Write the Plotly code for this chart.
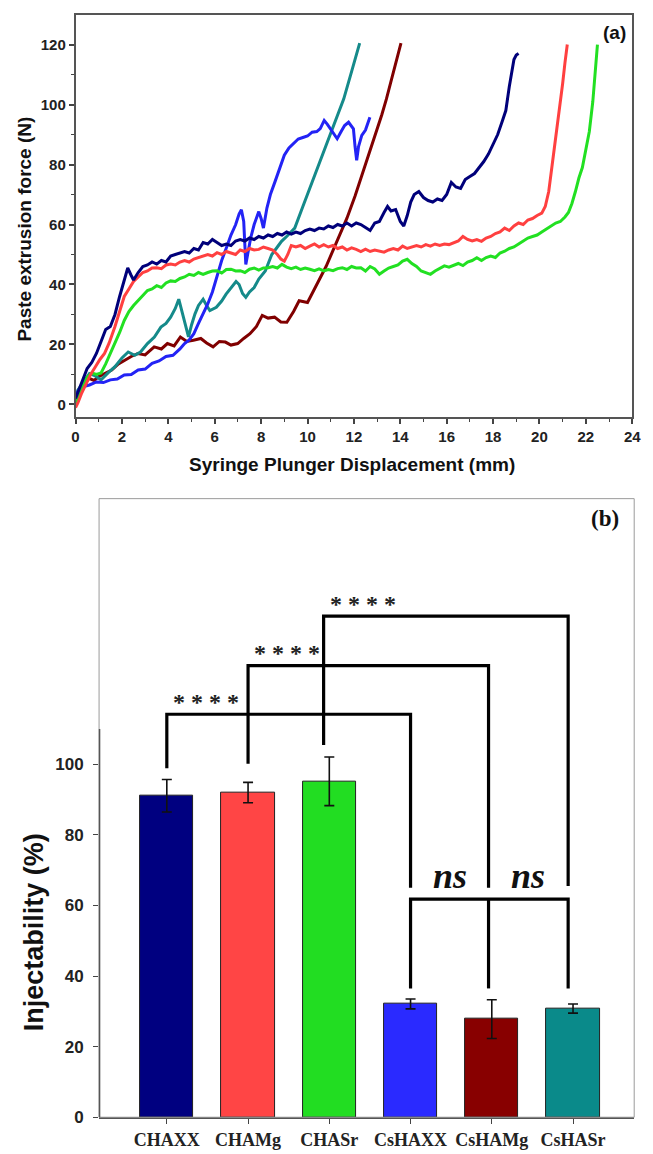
import plotly.graph_objects as go

W, H = 653, 1154

# ---------------- Panel (a): extrusion force curves ----------------
navy_x = [0.0, 0.1, 0.3, 0.5, 0.7, 0.9, 1.1, 1.3, 1.5, 1.7,
          1.9, 2.1, 2.25, 2.4, 2.5, 2.7, 2.9, 3.1, 3.3, 3.5,
          3.7, 3.9, 4.1, 4.3, 4.5, 4.7, 4.9, 5.1, 5.3, 5.5,
          5.7, 5.9, 6.1, 6.3, 6.5, 6.7, 6.9, 7.1, 7.3, 7.5,
          7.7, 7.9, 8.1, 8.3, 8.5, 8.7, 8.9, 9.1, 9.3, 9.5,
          9.7, 9.9, 10.1, 10.3, 10.5, 10.7, 10.9, 11.1, 11.3, 11.5,
          11.7, 11.9, 12.1, 12.3, 12.5, 12.7, 12.9, 13.1, 13.3, 13.45,
          13.6, 13.8, 14.0, 14.15, 14.3, 14.45, 14.6, 14.8, 15.0, 15.2,
          15.4, 15.6, 15.8, 16.0, 16.2, 16.4, 16.6, 16.8, 17.0, 17.2,
          17.4, 17.6, 17.8, 18.0, 18.2, 18.4, 18.55, 18.7, 18.8, 18.9,
          19.0, 19.1]
navy_y = [2, 4, 8, 12, 14, 17, 21, 25, 26, 30,
          36, 41, 45.5, 43, 41.5, 44, 46, 46.5, 47.5, 46.8,
          48, 47.5, 49.5, 50, 50.5, 51, 50.5, 52, 51.5, 54,
          53.5, 55, 54, 53, 53.5, 53, 54.5, 55, 54.5, 55.5,
          55, 56, 55.5, 56.5, 56, 57, 56.5, 57.5, 56.8, 57.5,
          57, 58, 58.5, 58, 58.8, 58.5, 59.5, 59, 60, 59.5,
          60.5, 59.5, 60.5, 60, 59, 58, 60.5, 61, 64, 66,
          64.5, 65, 61, 59.5, 63, 67.5, 70, 71, 69, 68,
          67.5, 68.5, 68, 70, 74, 72.5, 72, 75, 76, 77,
          79, 81, 83.5, 86.5, 90, 94.5, 98, 106, 111, 115,
          116.5, 117]

red_x = [0.0, 0.1, 0.25, 0.45, 0.65, 0.85, 1.05, 1.25, 1.45, 1.7,
         1.9, 2.1, 2.3, 2.5, 2.7, 2.9, 3.1, 3.3, 3.5, 3.7,
         3.9, 4.1, 4.3, 4.5, 4.7, 4.9, 5.1, 5.3, 5.5, 5.7,
         5.9, 6.1, 6.3, 6.5, 6.7, 6.9, 7.1, 7.3, 7.5, 7.7,
         7.9, 8.1, 8.3, 8.5, 8.7, 8.85, 9.0, 9.15, 9.3, 9.5,
         9.7, 9.9, 10.1, 10.3, 10.5, 10.7, 10.9, 11.1, 11.3, 11.5,
         11.7, 11.9, 12.1, 12.3, 12.5, 12.7, 12.9, 13.1, 13.3, 13.5,
         13.7, 13.9, 14.1, 14.3, 14.5, 14.7, 14.9, 15.1, 15.3, 15.5,
         15.7, 15.9, 16.1, 16.3, 16.5, 16.7, 16.9, 17.1, 17.3, 17.5,
         17.7, 17.9, 18.1, 18.3, 18.5, 18.7, 18.9, 19.1, 19.3, 19.5,
         19.7, 19.9, 20.1, 20.25, 20.4, 20.55, 20.7, 20.85, 21.0, 21.1,
         21.2]
red_y = [-1, 0.5, 3.5, 7, 10, 12.5, 15, 17, 20.5, 26,
         31, 36, 38.5, 41, 42.5, 44, 44.5, 45.5, 45.6, 45.3,
         46.5, 46.8, 46.5, 47.5, 48, 47.5, 48.5, 49, 49.5, 50,
         49.5, 50.6, 50, 51, 50.5, 50, 51.5, 51, 52, 51.5,
         51.7, 52.5, 52, 51.5, 50, 48.5, 47.8, 50, 53, 52.5,
         53, 52, 52.8, 53.5, 52.5, 53.3, 52.5, 53, 52, 52.5,
         51.5, 52.2, 51.7, 51, 51.8, 51, 51.5, 51.1, 50.8, 51.5,
         52, 51.5, 52.8, 52, 52.5, 53, 52.5, 53.3, 52.8, 53.5,
         53, 53.5, 53.3, 54, 54.5, 56, 55, 54.5, 55, 54.4,
         55.5, 56, 57, 57.5, 58.8, 58, 59.5, 60.5, 60, 61.5,
         62, 63, 63.8, 66, 71, 80, 88.5, 97, 107, 114,
         120]

green_x = [0.0, 0.1, 0.3, 0.5, 0.7, 0.9, 1.1, 1.3, 1.5, 1.7,
           1.9, 2.1, 2.3, 2.5, 2.7, 2.9, 3.1, 3.3, 3.5, 3.7,
           3.9, 4.1, 4.3, 4.5, 4.7, 4.9, 5.1, 5.3, 5.5, 5.7,
           5.9, 6.1, 6.3, 6.5, 6.7, 6.9, 7.1, 7.3, 7.5, 7.7,
           7.9, 8.1, 8.3, 8.5, 8.7, 8.9, 9.1, 9.3, 9.5, 9.7,
           9.9, 10.1, 10.3, 10.5, 10.7, 10.9, 11.1, 11.3, 11.5, 11.7,
           11.9, 12.1, 12.3, 12.5, 12.7, 12.9, 13.1, 13.3, 13.5, 13.7,
           13.9, 14.1, 14.3, 14.5, 14.7, 14.9, 15.1, 15.3, 15.5, 15.7,
           15.9, 16.1, 16.3, 16.5, 16.7, 16.9, 17.1, 17.3, 17.5, 17.7,
           17.9, 18.1, 18.3, 18.5, 18.7, 18.9, 19.1, 19.3, 19.5, 19.7,
           19.9, 20.1, 20.3, 20.5, 20.7, 20.9, 21.1, 21.25, 21.4, 21.55,
           21.7, 21.85, 22.0, 22.15, 22.3, 22.4, 22.5]
green_y = [0.5, 2.5, 6, 9, 10.5, 10, 10.5, 13.5, 17, 20,
           24, 28, 31, 33, 34.6, 36.5, 38, 38.5, 39.6, 39,
           40.5, 41.2, 41, 42, 42.5, 43.4, 43, 44, 43.4, 44,
           44.5, 44.6, 43.8, 45, 45.1, 44.5, 44.6, 44, 45.1, 45.5,
           44.8, 45.5, 45.6, 46, 45.5, 46.7, 45.8, 45.3, 45.8, 45,
           45.5, 45.1, 44.6, 45.2, 44.5, 45, 44.6, 45.3, 45.6, 45,
           46, 45.5, 45.6, 44.5, 46, 45.2, 43.4, 44.5, 45.5, 46,
           46.5, 47.8, 48.4, 47, 46, 44.5, 44, 43.4, 44.5, 45.5,
           46.2, 45.8, 46.5, 47, 46.3, 47.5, 48, 48.9, 48, 49,
           49.5, 49, 50.5, 51.1, 52, 52.5, 53.5, 54.5, 55.5, 56,
           56.5, 57.5, 58.5, 59.4, 60.5, 61, 62.5, 64, 67, 71,
           75.5, 79, 84.5, 91, 101, 110, 120]

blue_x = [0.0, 0.15, 0.35, 0.6, 0.9, 1.2, 1.5, 1.8, 2.1, 2.4,
          2.7, 3.0, 3.3, 3.6, 3.9, 4.2, 4.5, 4.7, 4.9, 5.1,
          5.3, 5.5, 5.7, 5.9, 6.1, 6.3, 6.5, 6.7, 6.9, 7.05,
          7.15, 7.25, 7.34, 7.45, 7.55, 7.7, 7.9, 8.0, 8.1, 8.25,
          8.4, 8.6, 8.8, 9.0, 9.2, 9.4, 9.6, 9.8, 10.0, 10.2,
          10.4, 10.55, 10.72, 10.85, 11.0, 11.15, 11.28, 11.45, 11.6, 11.77,
          11.9, 11.98, 12.05, 12.12, 12.2, 12.34, 12.5, 12.6, 12.69]
blue_y = [3, 5, 6, 6.5, 7.5, 7.3, 8.2, 8.5, 9.8, 10,
          11.5, 11.8, 13.7, 14.5, 16, 16.4, 18.5, 20.3, 21.5, 23.6,
          27, 30.2, 33.5, 37.5, 43, 48, 52.2, 56.5, 59.9, 63.5,
          64.9, 61, 46.7, 52, 55.5, 60, 64.3, 62, 58.8, 65.5,
          70, 74.3, 79, 83.1, 85.5, 87, 88.5, 89, 89.5, 90.8,
          91, 92, 94.7, 93.5, 91.9, 90, 88.6, 91, 93, 94.1,
          92.5, 91.9, 86, 81.4, 86, 89.7, 91.5, 93.5, 95.8]

maroon_x = [0.0, 0.1, 0.3, 0.58, 0.8, 1.0, 1.3, 1.56, 1.85, 2.13,
            2.4, 2.69, 3.0, 3.39, 3.7, 3.96, 4.25, 4.52, 4.8, 5.08,
            5.4, 5.65, 5.93, 6.2, 6.46, 6.7, 6.99, 7.25, 7.52, 7.8,
            8.05, 8.3, 8.58, 8.85, 9.11, 9.4, 9.64, 10.0, 10.25, 10.5,
            10.8, 11.14, 11.4, 11.7, 12.05, 12.4, 12.7, 12.97, 13.2, 13.4,
            13.7, 14.03]
maroon_y = [2, 3.7, 6, 8.7, 8, 9.3, 10.5, 11.5, 13.5, 14.8,
            16, 17, 16.5, 19.2, 18.5, 20.3, 19.5, 22.5, 21, 21.4,
            22, 20.5, 19.2, 21, 20.8, 19.8, 20.3, 22, 23.6, 26,
            29.7, 28.8, 29.1, 27.5, 27.4, 31, 34.6, 34, 38, 41.5,
            46, 52.2, 56.5, 62.1, 69.5, 77.6, 84.5, 90.8, 96.5, 101.8,
            111, 120.5]

teal_x = [0.0, 0.1, 0.3, 0.6, 0.85, 1.1, 1.4, 1.7, 2.0, 2.27,
          2.55, 2.8, 3.1, 3.4, 3.68, 3.9, 4.1, 4.3, 4.45, 4.6,
          4.73, 4.87, 5.0, 5.15, 5.3, 5.5, 5.65, 5.79, 6.07, 6.3,
          6.49, 6.7, 6.92, 7.05, 7.2, 7.34, 7.5, 7.7, 7.9, 8.18,
          8.46, 8.7, 8.88, 9.1, 9.45, 9.8, 10.15, 10.5, 10.86, 11.2,
          11.56, 11.9, 12.25]
teal_y = [2, 4.8, 7, 10.3, 9.5, 8.2, 10.5, 12.6, 15.5, 17.5,
          16.4, 17.5, 20.3, 22.5, 25.8, 27, 29.1, 32, 35.1, 30.5,
          25.8, 22.5, 26.5, 30.2, 33, 35.1, 33, 31.3, 32.4, 34.5,
          36.8, 39, 41, 40, 37, 35.7, 37.5, 39, 41.8, 44.5,
          50, 52.5, 54.4, 56, 58.8, 66, 73.2, 80.5, 87.5, 94.5,
          101.8, 111, 120.5]

curves = [
    ("CsHAMg", maroon_x, maroon_y, "#800000"),
    ("CsHASr", teal_x, teal_y, "#158a8a"),
    ("CsHAXX", blue_x, blue_y, "#2323f5"),
    ("CHASr", green_x, green_y, "#22e022"),
    ("CHAMg", red_x, red_y, "#ff4040"),
    ("CHAXX", navy_x, navy_y, "#00007a"),
]

# ---------------- Panel (b): injectability bars ----------------
groups = ["CHAXX", "CHAMg", "CHASr", "CsHAXX", "CsHAMg", "CsHASr"]
inject = [91.1, 92.0, 95.2, 32.1, 27.8, 30.8]
inject_err = [4.6, 2.9, 6.9, 1.4, 5.5, 1.3]
bar_colors = ["#000080", "#ff4545", "#22dd22", "#2a2aff", "#880000", "#0a8a8a"]

# significance brackets: (left group, right group, left leg bottom, right leg bottom, bar height, label)
leg_pos = [0, 1, 1.93, 3, 3.96, 4.94]
brackets = [
    (0, 3, 98.9, 65.0, 114.2, "* * * *"),
    (1, 4, 100.2, 65.0, 128.0, "* * * *"),
    (2, 5, 105.5, 65.5, 142.0, "* * * *"),
]
ns_level = 61.8
ns_bottom = 36.5
ns_groups = [3, 4, 5]

fig = go.Figure()

for name, xs, ys, col in curves:
    fig.add_trace(go.Scatter(x=xs, y=ys, mode="lines", name=name,
                             line=dict(color=col, width=3),
                             xaxis="x", yaxis="y", showlegend=False))

fig.add_trace(go.Bar(x=list(range(len(groups))), y=inject, width=0.656,
                     marker=dict(color=bar_colors, line=dict(color="#222", width=1)),
                     error_y=dict(type="data", array=inject_err, color="#111",
                                  thickness=1.6, width=5),
                     xaxis="x2", yaxis="y2", showlegend=False))

def px2x(px):
    return px / W

def py2y(py):
    return 1 - py / H

sans = "Liberation Sans, Arial, sans-serif"
serif = "Liberation Serif, Times New Roman, serif"

B_TOP, B_BOT = 503, 1127

shapes = []
annotations = []
LW = 3.2
for (a, b, la, lb, h, lab) in brackets:
    xa, xb = leg_pos[a], leg_pos[b]
    shapes.append(dict(type="path", xref="x2", yref="y2",
                       path=f"M {xa},{la} L {xa},{h} L {xb},{h} L {xb},{lb}",
                       line=dict(color="black", width=LW)))
    annotations.append(dict(x=xa + 0.48, y=h - 0.8, xref="x2", yref="y2",
                            text=lab, showarrow=False, xanchor="center", yanchor="bottom",
                            font=dict(family=serif, size=24, color="#222", weight="bold")))

xl, xm, xr = leg_pos[ns_groups[0]], leg_pos[ns_groups[1]], leg_pos[ns_groups[2]]
shapes.append(dict(type="path", xref="x2", yref="y2",
                   path=f"M {xl},{ns_bottom} L {xl},{ns_level} L {xr},{ns_level} L {xr},{ns_bottom}",
                   line=dict(color="black", width=LW)))
shapes.append(dict(type="line", xref="x2", yref="y2", x0=xm, x1=xm, y0=ns_bottom, y1=ns_level,
                   line=dict(color="black", width=LW)))
for xc in [(xl + xm) / 2, (xm + xr) / 2]:
    annotations.append(dict(x=xc, y=68.5, xref="x2", yref="y2", text="<b><i>ns</i></b>",
                            showarrow=False, xanchor="center", yanchor="middle",
                            font=dict(family=serif, size=36, color="#111")))

# panel (b) frame (light) and left axis line (dark, 0-110)
shapes.append(dict(type="rect", xref="paper", yref="paper",
                   x0=px2x(97), x1=px2x(643), y0=py2y(B_BOT), y1=py2y(B_TOP),
                   line=dict(color="#9a9a9a", width=1)))
shapes.append(dict(type="line", xref="paper", yref="y2", x0=px2x(97.5), x1=px2x(97.5),
                   y0=0, y1=110, line=dict(color="#555", width=1.5)))

def label(px, py, text, size, family, angle=0):
    return dict(x=px2x(px), y=py2y(py), xref="paper", yref="paper", text=text,
                showarrow=False, textangle=angle, xanchor="center", yanchor="middle",
                font=dict(family=family, size=size, color="#111"))

annotations += [
    label(623, 33, "<b>(a)</b>", 19, sans),
    label(613, 523, "<b>(b)</b>", 23, serif),
    label(355, 469, "<b>Syringe Plunger Displacement (mm)</b>", 19, sans),
    label(21, 231, "<b>Paste extrusion force (N)</b>", 19, sans, -90),
    label(30, 940, "<b>Injectability (%)</b>", 27, sans, -90),
]

tickf = dict(family=sans, size=15, color="#222", weight="bold")

fig.update_layout(
    width=W, height=H, autosize=False,
    margin=dict(l=0, r=0, t=0, b=0),
    paper_bgcolor="white", plot_bgcolor="white",
    shapes=shapes, annotations=annotations,
    bargap=0,
    xaxis=dict(domain=[px2x(73), px2x(641)], range=[0, 24], anchor="y",
               tickvals=list(range(0, 25, 2)), ticks="outside", ticklen=5, tickwidth=1.5,
               tickcolor="#444", showline=True, linecolor="#555", linewidth=1.5, mirror=True,
               showgrid=False, zeroline=False, tickfont=tickf,
               minor=dict(dtick=1, ticks="outside", ticklen=3, tickwidth=1.2, tickcolor="#444")),
    yaxis=dict(domain=[py2y(421), py2y(15)], range=[-4.3, 129.9], anchor="x",
               tickvals=list(range(0, 121, 20)), ticks="outside", ticklen=5, tickwidth=1.5,
               tickcolor="#444", showline=True, linecolor="#555", linewidth=1.5, mirror=True,
               showgrid=False, zeroline=False, tickfont=tickf,
               minor=dict(dtick=10, ticks="outside", ticklen=3, tickwidth=1.2, tickcolor="#444")),
    xaxis2=dict(domain=[px2x(97), px2x(643)], range=[-0.834, 5.753], anchor="y2",
                tickvals=list(range(len(groups))), ticktext=groups,
                ticks="outside", ticklen=5, tickwidth=1.2, tickcolor="#444",
                showline=True, linecolor="#555", linewidth=1.5, showgrid=False, zeroline=False,
                tickfont=dict(family=serif, size=18, color="#222", weight="bold")),
    yaxis2=dict(domain=[py2y(B_BOT), py2y(B_TOP)], range=[0, 175.3], anchor="x2",
                tickvals=list(range(0, 101, 20)), ticks="outside", ticklen=5, tickwidth=1.2,
                tickcolor="#444", showline=False, showgrid=False, zeroline=False,
                ticklabelstandoff=6,
                tickfont=dict(family=sans, size=17, color="#222", weight="bold")),
)

fig.write_html("out.html")
